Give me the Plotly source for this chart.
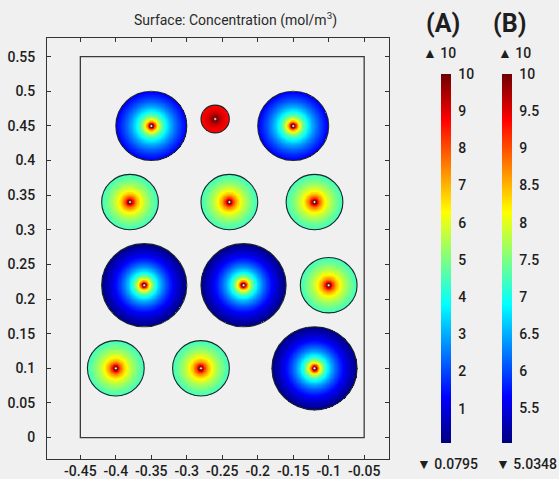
import numpy as np
import plotly.graph_objects as go

# ---- data ----
circle_x = [-0.35, -0.26, -0.15, -0.38, -0.24, -0.12, -0.36, -0.22, -0.10, -0.40, -0.28, -0.12]
circle_y = [0.45, 0.46, 0.45, 0.34, 0.34, 0.34, 0.22, 0.22, 0.22, 0.10, 0.10, 0.10]
circle_r = [0.05, 0.02, 0.05, 0.04, 0.04, 0.04, 0.06, 0.06, 0.04, 0.04, 0.04, 0.06]
edge_conc = [1.2, 8.7, 1.2, 4.4, 4.4, 4.4, 0.1, 0.1, 4.4, 4.4, 4.4, 0.1]
source_conc = 10.0
source_r = 0.0025

domain_x = [-0.45, -0.05]
domain_y = [0.0, 0.55]

x_ticks = [-0.45, -0.4, -0.35, -0.3, -0.25, -0.2, -0.15, -0.1, -0.05]
y_ticks = [0, 0.05, 0.1, 0.15, 0.2, 0.25, 0.3, 0.35, 0.4, 0.45, 0.5, 0.55]

cbA_min, cbA_max = 0.0795, 10
cbA_ticks = [1, 2, 3, 4, 5, 6, 7, 8, 9, 10]
cbB_min, cbB_max = 5.0348, 10
cbB_ticks = [5.5, 6, 6.5, 7, 7.5, 8, 8.5, 9, 9.5, 10]

jet = [[0.0, "rgb(0,0,128)"], [0.125, "rgb(0,0,255)"], [0.375, "rgb(0,255,255)"],
       [0.625, "rgb(255,255,0)"], [0.875, "rgb(255,0,0)"], [1.0, "rgb(110,0,0)"]]

BG = "#f0f0f0"
W, H = 559, 479
PL, PR, PT, PB = 47, 389, 38, 459   # plot area in pixels


def px(xp):
    return (xp - PL) / (PR - PL)


def py(yp):
    return (PB - yp) / (PB - PT)


fig = go.Figure()

step = 0.0008
for x0, y0, R, ce in zip(circle_x, circle_y, circle_r, edge_conc):
    xs = np.arange(x0 - R, x0 + R + step, step)
    ys = np.arange(y0 - R, y0 + R + step, step)
    X, Y = np.meshgrid(xs, ys)
    r = np.hypot(X - x0, Y - y0)
    rr = np.maximum(r, source_r)
    z = ce + (source_conc - ce) * np.log(R / rr) / np.log(R / source_r)
    z = np.round(z, 3)
    z[r > R] = np.nan
    fig.add_trace(go.Heatmap(x=xs, y=ys, z=z, coloraxis="coloraxis",
                             zsmooth=False, hoverinfo="skip"))

# dummy trace only to carry the second colour bar (kept outside the visible range)
fig.add_trace(go.Heatmap(x=[10, 11], y=[10], z=[[cbB_min, cbB_max]],
                         coloraxis="coloraxis2", hoverinfo="skip"))

shapes = [dict(type="rect", xref="x", yref="y", x0=domain_x[0], x1=domain_x[1],
               y0=domain_y[0], y1=domain_y[1], line=dict(color="#3a3a3a", width=1.3))]
for x0, y0, R in zip(circle_x, circle_y, circle_r):
    shapes.append(dict(type="circle", xref="x", yref="y", x0=x0 - R, x1=x0 + R,
                       y0=y0 - R, y1=y0 + R, line=dict(color="#1c2626", width=1.1)))
    shapes.append(dict(type="circle", xref="x", yref="y", x0=x0 - 0.0018, x1=x0 + 0.0018,
                       y0=y0 - 0.0018, y1=y0 + 0.0018, fillcolor="white",
                       line=dict(color="#303030", width=0.6)))

FONT = "Roboto, Open Sans, sans-serif"
tickfont = dict(family=FONT, size=14, color="#1e1e1e", weight=500)

annotations = [
    dict(text="Surface: Concentration (mol/m<sup>3</sup>)", x=px(235), y=py(19),
         font=dict(family=FONT, size=14, color="#2a2a2a")),
    dict(text="<b>(A)</b>", x=px(443), y=py(23),
         font=dict(family=FONT, size=25, color="#1e1e1e")),
    dict(text="<b>(B)</b>", x=px(509), y=py(23),
         font=dict(family=FONT, size=25, color="#1e1e1e")),
    dict(text="▲ 10", x=px(439), y=py(53), font=tickfont),
    dict(text="▲ 10", x=px(514), y=py(53), font=tickfont),
    dict(text="▼ 0.0795", x=px(447), y=py(464), font=tickfont),
    dict(text="▼ 5.0348", x=px(526), y=py(464), font=tickfont),
]
for a in annotations:
    a.update(xref="paper", yref="paper", showarrow=False, xanchor="center", yanchor="middle")

bar_top, bar_bot = 74, 443
cb_common = dict(thickness=10, thicknessmode="pixels", len=bar_bot - bar_top, lenmode="pixels",
                 yref="paper", y=py(bar_top), yanchor="top",
                 xref="paper", xanchor="left", xpad=0, ypad=0, outlinewidth=0,
                 ticks="outside", ticklen=5, tickcolor="rgba(0,0,0,0)", tickfont=tickfont)

fig.update_layout(
    width=W, height=H,
    margin=dict(l=PL, r=W - PR, t=PT, b=H - PB),
    paper_bgcolor=BG, plot_bgcolor=BG,
    showlegend=False,
    shapes=shapes,
    annotations=annotations,
    coloraxis=dict(colorscale=jet, cmin=cbA_min, cmax=cbA_max,
                   colorbar=dict(cb_common, x=px(441), tickvals=cbA_ticks,
                                 ticktext=[str(t) for t in cbA_ticks])),
    coloraxis2=dict(colorscale=jet, cmin=cbB_min, cmax=cbB_max,
                    colorbar=dict(cb_common, x=px(502), tickvals=cbB_ticks,
                                  ticktext=[f"{t:g}" for t in cbB_ticks])),
    xaxis=dict(range=[-0.497, -0.015], tickvals=x_ticks, ticktext=[f"{t:g}" for t in x_ticks],
               ticks="inside", ticklen=4, tickcolor="#333", mirror="ticks", showline=True,
               linecolor="#333", linewidth=1, showgrid=False, zeroline=False,
               tickfont=tickfont, automargin=False, ticklabelstandoff=-1),
    yaxis=dict(range=[-0.031, 0.577], tickvals=y_ticks, ticktext=[f"{t:g}" for t in y_ticks],
               ticks="inside", ticklen=4, tickcolor="#333", mirror="ticks", showline=True,
               linecolor="#333", linewidth=1, showgrid=False, zeroline=False,
               tickfont=tickfont, automargin=False, ticklabelstandoff=8),
)

fig.write_html("out.html", config={"displayModeBar": False},
               post_script="document.body.style.margin='0px';")
